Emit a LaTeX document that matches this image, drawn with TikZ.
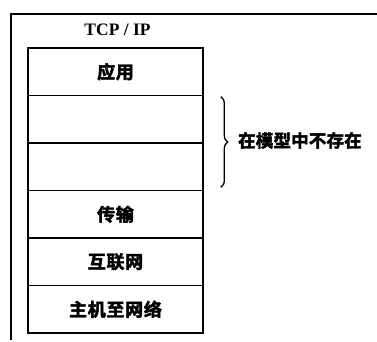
\documentclass[tikz,border=0pt]{standalone}
\usepackage{fontspec}
\setmainfont{Liberation Serif}
\newfontfamily\cjk{Noto Sans CJK SC}[BoldFont={* Bold}, BoldFeatures={FakeBold=2.5}, LetterSpace=4]
\newfontfamily\cjkr{Noto Sans CJK SC}[BoldFont={* Bold}, BoldFeatures={FakeBold=2.5}, LetterSpace=1]
\usetikzlibrary{decorations.pathreplacing}
\tikzset{
  layer/.style={draw, line width=1.6pt, minimum width=175pt, minimum height=47.5pt, inner sep=0pt, font=\cjk\bfseries\fontsize{18}{18}\selectfont},
  frame/.style={line width=1.2pt},
  lbl/.style={inner sep=0pt, font=\cjkr\bfseries\fontsize{17.5}{17.5}\selectfont}
}
\begin{document}
\begin{tikzpicture}[x=1pt,y=-1pt]
\useasboundingbox (0,0) rectangle (377,342);
\draw[frame] (377,14) -- (11,14) -- (11,340);
\node[inner sep=0pt, font=\bfseries\fontsize{17.5}{17.5}\selectfont] (title) at (117.5,30) {TCP / IP};
\node[layer] (app) at (115.5,71.75) {应用};
\node[layer] (e1) at (115.5,119.25) {};
\node[layer] (e2) at (115.5,166.75) {};
\node[layer] (tr) at (115.5,214.25) {传输};
\node[layer] (net) at (115.5,261.75) {互联网};
\node[layer] (host) at (115.5,309.25) {主机至网络};
\coordinate (bt) at ([xshift=17pt,yshift=-2pt]e1.north east);
\coordinate (bb) at ([xshift=17pt,yshift=4pt]e2.south east);
\draw[line width=1.3pt, decorate, decoration={brace, amplitude=7pt}] (bt) -- (bb);
\node[lbl, anchor=west] (miss) at (238,140.5) {在模型中不存在};
\end{tikzpicture}
\end{document}
